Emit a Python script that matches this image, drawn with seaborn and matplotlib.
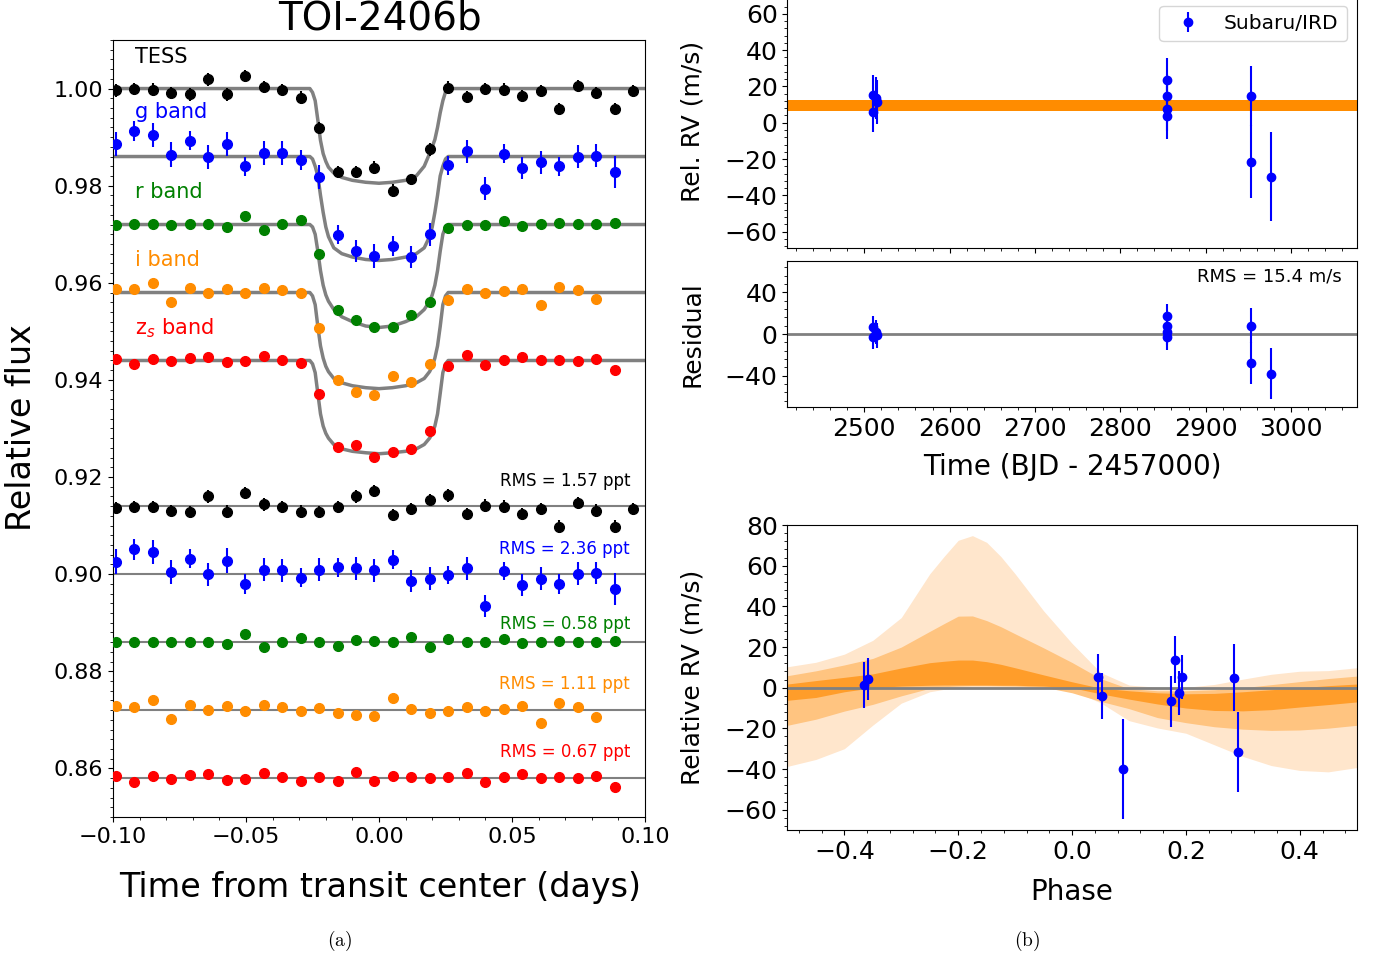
import numpy as np
import pandas as pd
import seaborn as sns
import matplotlib.pyplot as plt
from matplotlib.ticker import MultipleLocator

sns.set_style("ticks")
plt.rcParams["font.family"] = ["DejaVu Sans"]
plt.rcParams["mathtext.fontset"] = "dejavusans"
plt.rcParams.update({
    "axes.edgecolor": "black", "text.color": "black", "axes.labelcolor": "black",
    "xtick.color": "black", "ytick.color": "black",
    "xtick.major.size": 3.5, "ytick.major.size": 3.5,
    "xtick.minor.size": 2, "ytick.minor.size": 2,
})

# --- panel (a): binned light curves, 10-min bins (days from mid-transit) ---
t_bin = [-0.0989, -0.0920, -0.0850, -0.0781, -0.0711, -0.0642, -0.0572, -0.0503,
         -0.0434, -0.0364, -0.0295, -0.0225, -0.0156, -0.0086, -0.0017, 0.0052,
         0.0122, 0.0191, 0.0261, 0.0330, 0.0400, 0.0469, 0.0539, 0.0608,
         0.0677, 0.0747, 0.0816, 0.0886, 0.0955]

tess_flux = [0.9996, 0.9999, 0.9998, 0.9991, 0.9988, 1.0019, 0.9988, 1.0026, 1.0003, 0.9998,
             0.9981, 0.9919, 0.9828, 0.9828, 0.9837, 0.9790, 0.9813, 0.9875, 1.0002, 0.9982,
             0.9999, 0.9998, 0.9984, 0.9995, 0.9958, 1.0005, 0.9991, 0.9958, 0.9995]
tess_err = [0.0013, 0.0012, 0.0013, 0.0012, 0.0013, 0.0013, 0.0013, 0.0012, 0.0013, 0.0012,
            0.0013, 0.0013, 0.0012, 0.0013, 0.0013, 0.0013, 0.0012, 0.0013, 0.0013, 0.0012,
            0.0013, 0.0013, 0.0012, 0.0013, 0.0013, 0.0012, 0.0013, 0.0013, 0.0013]
tess_res = [0.9136, 0.9139, 0.9138, 0.9131, 0.9128, 0.9160, 0.9129, 0.9167, 0.9144, 0.9138,
            0.9129, 0.9128, 0.9138, 0.9160, 0.9171, 0.9122, 0.9134, 0.9153, 0.9162, 0.9124,
            0.9141, 0.9139, 0.9124, 0.9134, 0.9098, 0.9146, 0.9131, 0.9098, 0.9134]

g_flux = [0.9886, 0.9912, 0.9905, 0.9864, 0.9893, 0.9859, 0.9886, 0.9840, 0.9867, 0.9867,
          0.9853, 0.9818, 0.9699, 0.9665, 0.9655, 0.9676, 0.9653, 0.9700, 0.9842, 0.9871,
          0.9794, 0.9866, 0.9837, 0.9848, 0.9840, 0.9860, 0.9862, 0.9829]
g_err = [0.0025, 0.0021, 0.0025, 0.0025, 0.0020, 0.0024, 0.0025, 0.0020, 0.0024, 0.0024,
         0.0020, 0.0024, 0.0019, 0.0023, 0.0024, 0.0020, 0.0023, 0.0024, 0.0019, 0.0024,
         0.0023, 0.0019, 0.0023, 0.0024, 0.0020, 0.0024, 0.0023, 0.0033]
g_res = [0.9026, 0.9051, 0.9046, 0.9004, 0.9032, 0.9000, 0.9028, 0.8980, 0.9009, 0.9008,
         0.8993, 0.9009, 0.9014, 0.9012, 0.9008, 0.9030, 0.8986, 0.8991, 0.8998, 0.9012,
         0.8935, 0.9007, 0.8978, 0.8991, 0.8980, 0.9001, 0.9002, 0.8970]

r_flux = [0.9720, 0.9722, 0.9722, 0.9720, 0.9722, 0.9722, 0.9715, 0.9737, 0.9709, 0.9722,
          0.9729, 0.9659, 0.9545, 0.9523, 0.9508, 0.9508, 0.9533, 0.9561, 0.9712, 0.9720,
          0.9720, 0.9727, 0.9717, 0.9722, 0.9724, 0.9721, 0.9721, 0.9724]
r_err = [0.0004, 0.0004, 0.0004, 0.0004, 0.0004, 0.0004, 0.0004, 0.0004, 0.0004, 0.0004,
         0.0004, 0.0004, 0.0004, 0.0004, 0.0004, 0.0004, 0.0004, 0.0004, 0.0004, 0.0004,
         0.0004, 0.0004, 0.0004, 0.0004, 0.0004, 0.0004, 0.0004, 0.0004]
r_res = [0.8860, 0.8861, 0.8861, 0.8860, 0.8861, 0.8861, 0.8857, 0.8877, 0.8849, 0.8861,
         0.8869, 0.8861, 0.8853, 0.8865, 0.8863, 0.8860, 0.8870, 0.8849, 0.8867, 0.8860,
         0.8860, 0.8867, 0.8858, 0.8861, 0.8863, 0.8860, 0.8860, 0.8863]

i_flux = [0.9587, 0.9587, 0.9600, 0.9561, 0.9589, 0.9579, 0.9588, 0.9578, 0.9589, 0.9585,
          0.9578, 0.9506, 0.9400, 0.9376, 0.9369, 0.9408, 0.9396, 0.9432, 0.9564, 0.9587,
          0.9578, 0.9583, 0.9587, 0.9554, 0.9591, 0.9585, 0.9566]
i_err = [0.0005, 0.0005, 0.0005, 0.0005, 0.0005, 0.0005, 0.0005, 0.0005, 0.0005, 0.0005,
         0.0005, 0.0005, 0.0005, 0.0005, 0.0005, 0.0005, 0.0005, 0.0005, 0.0005, 0.0005,
         0.0005, 0.0005, 0.0005, 0.0005, 0.0005, 0.0005, 0.0006]
i_res = [0.8729, 0.8727, 0.8740, 0.8702, 0.8730, 0.8720, 0.8728, 0.8719, 0.8730, 0.8726,
         0.8719, 0.8725, 0.8715, 0.8710, 0.8708, 0.8746, 0.8723, 0.8715, 0.8718, 0.8727,
         0.8718, 0.8723, 0.8728, 0.8694, 0.8734, 0.8726, 0.8706]

z_flux = [0.9444, 0.9432, 0.9444, 0.9439, 0.9446, 0.9448, 0.9436, 0.9439, 0.9450, 0.9442,
          0.9434, 0.9371, 0.9262, 0.9265, 0.9242, 0.9252, 0.9258, 0.9295, 0.9428, 0.9451,
          0.9430, 0.9442, 0.9448, 0.9441, 0.9442, 0.9439, 0.9444, 0.9420]
z_err = [0.0004, 0.0004, 0.0004, 0.0004, 0.0004, 0.0004, 0.0004, 0.0004, 0.0004, 0.0004,
         0.0004, 0.0004, 0.0004, 0.0004, 0.0004, 0.0004, 0.0004, 0.0004, 0.0004, 0.0004,
         0.0004, 0.0004, 0.0004, 0.0004, 0.0004, 0.0004, 0.0004, 0.0009]
z_res = [0.8584, 0.8572, 0.8584, 0.8579, 0.8586, 0.8588, 0.8577, 0.8579, 0.8590, 0.8583,
         0.8574, 0.8582, 0.8574, 0.8593, 0.8575, 0.8585, 0.8582, 0.8581, 0.8583, 0.8591,
         0.8572, 0.8582, 0.8588, 0.8581, 0.8583, 0.8581, 0.8585, 0.8562]

# transit model curves, read at these times
model_t = [-0.100, -0.026, -0.025, -0.024, -0.023, -0.022, -0.021, -0.020, -0.019,
           -0.017, -0.014, -0.010, -0.005, 0.000, 0.005, 0.010, 0.014, 0.017,
           0.019, 0.020, 0.021, 0.022, 0.023, 0.024, 0.025, 0.026, 0.100]
tess_model = [1.0, 1.0, 0.9992, 0.9975, 0.9935, 0.9893, 0.9866, 0.9850, 0.9838,
              0.9826, 0.9817, 0.9811, 0.9807, 0.9805, 0.9807, 0.9811, 0.9820, 0.9840,
              0.9866, 0.9880, 0.9895, 0.9920, 0.9950, 0.9975, 0.9993, 1.0, 1.0]
g_model = [0.986, 0.986, 0.9855, 0.9840, 0.9820, 0.9780, 0.9745, 0.9715, 0.9695,
           0.9672, 0.9660, 0.9653, 0.9648, 0.9646, 0.9648, 0.9653, 0.9660, 0.9672,
           0.9695, 0.9715, 0.9745, 0.9780, 0.9820, 0.9840, 0.9855, 0.986, 0.986]
r_model = [0.972, 0.972, 0.9715, 0.9700, 0.9665, 0.9625, 0.9595, 0.9575, 0.9562,
           0.9545, 0.9530, 0.9520, 0.9511, 0.9508, 0.9511, 0.9520, 0.9530, 0.9545,
           0.9562, 0.9575, 0.9595, 0.9625, 0.9665, 0.9700, 0.9715, 0.972, 0.972]
i_model = [0.958, 0.958, 0.9573, 0.9555, 0.9510, 0.9470, 0.9445, 0.9428, 0.9417,
           0.9403, 0.9394, 0.9388, 0.9384, 0.9382, 0.9384, 0.9388, 0.9394, 0.9403,
           0.9417, 0.9428, 0.9445, 0.9470, 0.9510, 0.9555, 0.9573, 0.958, 0.958]
z_model = [0.944, 0.944, 0.9433, 0.9415, 0.9372, 0.9330, 0.9305, 0.9290, 0.9280,
           0.9267, 0.9258, 0.9253, 0.9250, 0.9248, 0.9250, 0.9253, 0.9258, 0.9267,
           0.9280, 0.9290, 0.9305, 0.9330, 0.9372, 0.9415, 0.9433, 0.944, 0.944]

band_names = ["TESS", "g band", "r band", "i band", r"z$_s$ band"]
band_colors = ["black", "blue", "green", "darkorange", "red"]
res_levels = [0.914, 0.900, 0.886, 0.872, 0.858]
rms_labels = ["RMS = 1.57 ppt", "RMS = 2.36 ppt", "RMS = 0.58 ppt",
              "RMS = 1.11 ppt", "RMS = 0.67 ppt"]

# --- panel (b): Subaru/IRD radial velocities ---
rv_time = [2509.7, 2509.7, 2514.2, 2515.0, 2854.4, 2854.4, 2854.4, 2854.4,
           2952.6, 2952.6, 2976.8]
rv_val = [15.2, 5.9, 13.7, 11.5, 23.5, 14.8, 7.8, 3.7, 14.8, -21.5, -29.8]
rv_err = [11.0, 11.0, 11.5, 12.0, 12.0, 12.0, 12.5, 12.5, 16.5, 20.0, 24.5]
rv_res = [6.4, -3.2, 2.2, -1.0, 17.2, 8.0, 1.6, -3.2, 8.0, -28.0, -37.9]

phase = [-0.366, -0.359, 0.046, 0.053, 0.090, 0.173, 0.180, 0.188, 0.194, 0.285, 0.292]
phase_rv = [1.3, 4.3, 5.4, -4.1, -39.8, -6.6, 13.8, -2.6, 5.2, 4.9, -31.6]
phase_err = [11.5, 10.5, 11.0, 11.5, 24.6, 12.5, 11.6, 11.0, 11.0, 16.4, 19.7]

# model credible bands vs phase
band_ph = [-0.5, -0.45, -0.4, -0.35, -0.3, -0.25, -0.225, -0.2, -0.175, -0.15, -0.125,
           -0.1, -0.05, 0.0, 0.05, 0.1, 0.15, 0.2, 0.25, 0.3, 0.35, 0.4, 0.45, 0.5]
light_hi = [10.3, 12.5, 16.5, 23.3, 34.5, 56.0, 64.5, 72.5, 74.8, 71.5, 64.5,
            56.0, 37.8, 21.8, 7.5, 1.3, 0.2, 0.2, 1.6, 4.2, 6.6, 8.1, 8.4, 9.8]
light_lo = [-38.7, -35.3, -30.0, -18.4, -7.6, -2.0, -0.8, 0.0, 0.0, 0.0, 0.0,
            0.0, -0.3, -1.4, -7.4, -16.2, -19.8, -22.4, -28.1, -33.8, -38.3, -40.7, -41.4, -39.3]
mid_hi = [5.9, 8.3, 11.2, 14.4, 20.0, 27.7, 31.5, 35.2, 35.3, 33.0, 30.0,
          26.5, 19.6, 12.4, 4.5, -0.5, -1.5, -1.5, -1.0, 0.0, 1.5, 3.0, 4.5, 5.7]
mid_lo = [-18.5, -15.5, -11.5, -8.2, -4.0, -0.3, 0.5, 0.8, 1.0, 1.0, 0.9,
          0.8, 0.3, -2.5, -6.7, -10.3, -14.7, -17.2, -19.2, -20.4, -21.0, -20.8, -19.9, -18.5]
dark_hi = [1.8, 3.5, 5.1, 6.8, 9.7, 12.3, 13.0, 13.6, 13.6, 12.8, 11.5,
           9.8, 6.3, 2.9, -0.2, -1.5, -2.5, -3.0, -2.8, -2.0, -1.0, 0.0, 1.0, 1.8]
dark_lo = [-6.2, -4.8, -2.0, 0.0, 0.8, 1.2, 1.3, 1.3, 1.3, 1.3, 1.2,
           1.2, 0.8, 0.0, -3.0, -5.6, -8.0, -10.0, -11.2, -11.4, -10.8, -9.5, -8.3, -7.0]

fig = plt.figure(figsize=(13.8, 9.59), dpi=100)

# ---------------- panel (a) ----------------
ax = fig.add_axes([0.0819, 0.1481, 0.3855, 0.8102])
fluxes = [tess_flux, g_flux, r_flux, i_flux, z_flux]
errs = [tess_err, g_err, r_err, i_err, z_err]
resids = [tess_res, g_res, r_res, i_res, z_res]
models = [tess_model, g_model, r_model, i_model, z_model]
rms_y = [0.9192, 0.9052, 0.8898, 0.8773, 0.8633]

for k in range(5):
    n = len(fluxes[k])
    c = band_colors[k]
    sns.lineplot(x=model_t, y=models[k], color="gray", lw=2.5, sort=False,
                 estimator=None, ax=ax, zorder=2)
    ax.axhline(res_levels[k], color="gray", lw=1.5, zorder=1)
    ax.errorbar(t_bin[:n], fluxes[k], yerr=errs[k], fmt="o", color=c, ms=7,
                elinewidth=1.5, capsize=0, zorder=3)
    ax.errorbar(t_bin[:n], resids[k], yerr=errs[k], fmt="o", color=c, ms=7,
                elinewidth=1.5, capsize=0, zorder=3)
    ax.text(0.0944, rms_y[k], rms_labels[k], color=c, fontsize=12,
            ha="right", va="center")

label_y = [1.0066, 0.9951, 0.9786, 0.9646, 0.9507]
for k in range(5):
    ax.text(-0.0917, label_y[k], band_names[k], color=band_colors[k], fontsize=15,
            ha="left", va="center")

ax.set_xlim(-0.1, 0.1)
ax.set_ylim(0.85, 1.01)
ax.xaxis.set_major_locator(MultipleLocator(0.05))
ax.xaxis.set_minor_locator(MultipleLocator(0.01))
ax.yaxis.set_major_locator(MultipleLocator(0.02))
ax.yaxis.set_minor_locator(MultipleLocator(0.002))
ax.tick_params(labelsize=16)
ax.set_xlabel("")
ax.set_ylabel("")

fig.text(380 / 1380, 1 - 18 / 959, "TOI-2406b", fontsize=28, ha="center", va="center")
fig.text(22 / 1380, 1 - 428 / 959, "Relative flux", fontsize=24, rotation=90,
         ha="center", va="center")
fig.text(380 / 1380, 1 - 888 / 959, "Time from transit center (days)", fontsize=24,
         ha="center", va="center")

# ---------------- panel (b) ----------------
rx0, rw = 0.5706, 0.4125
xlo, xhi = 2410, 3077

ax_rv = fig.add_axes([rx0, 0.7414, rw, 0.2631])
ax_rv.axhspan(6.3, 12.8, color="darkorange", lw=0, zorder=1)
ax_rv.errorbar(rv_time, rv_val, yerr=rv_err, fmt="o", color="blue", ms=6,
               elinewidth=1.5, capsize=0, zorder=3, label="Subaru/IRD")
ax_rv.legend(loc="upper right", fontsize=14.5, frameon=True)
ax_rv.set_xlim(xlo, xhi)
ax_rv.set_ylim(-69, 70)
ax_rv.xaxis.set_major_locator(MultipleLocator(100))
ax_rv.xaxis.set_minor_locator(MultipleLocator(20))
ax_rv.yaxis.set_major_locator(MultipleLocator(20))
ax_rv.yaxis.set_minor_locator(MultipleLocator(4))
ax_rv.tick_params(labelsize=18)
ax_rv.tick_params(axis="x", labelbottom=False)
ax_rv.set_ylabel("Rel. RV (m/s)", fontsize=18)

ax_res = fig.add_axes([rx0, 0.5756, rw, 0.1522])
ax_res.axhline(0, color="gray", lw=2, zorder=1)
ax_res.errorbar(rv_time, rv_res, yerr=rv_err, fmt="o", color="blue", ms=6,
                elinewidth=1.5, capsize=0, zorder=3)
ax_res.text(0.974, 0.897, "RMS = 15.4 m/s", transform=ax_res.transAxes,
            fontsize=13, ha="right", va="center")
ax_res.set_xlim(xlo, xhi)
ax_res.set_ylim(-70, 70)
ax_res.xaxis.set_major_locator(MultipleLocator(100))
ax_res.xaxis.set_minor_locator(MultipleLocator(20))
ax_res.yaxis.set_major_locator(MultipleLocator(40))
ax_res.yaxis.set_minor_locator(MultipleLocator(8))
ax_res.tick_params(labelsize=18)
ax_res.set_ylabel("Residual", fontsize=18)
ax_res.set_xlabel("Time (BJD - 2457000)", fontsize=20, labelpad=9)

ax_ph = fig.add_axes([rx0, 0.1345, rw, 0.3180])
ax_ph.fill_between(band_ph, light_lo, light_hi, color="#ffe6cc", lw=0, zorder=1)
ax_ph.fill_between(band_ph, mid_lo, mid_hi, color="#ffc480", lw=0, zorder=1)
ax_ph.fill_between(band_ph, dark_lo, dark_hi, color="#ff9d2a", lw=0, zorder=1)
ax_ph.axhline(0, color="gray", lw=2, zorder=2)
ax_ph.errorbar(phase, phase_rv, yerr=phase_err, fmt="o", color="blue", ms=6,
               elinewidth=1.5, capsize=0, zorder=3)
ax_ph.set_xlim(-0.5, 0.5)
ax_ph.set_ylim(-70, 80)
ax_ph.xaxis.set_major_locator(MultipleLocator(0.2))
ax_ph.xaxis.set_minor_locator(MultipleLocator(0.04))
ax_ph.yaxis.set_major_locator(MultipleLocator(20))
ax_ph.yaxis.set_minor_locator(MultipleLocator(4))
ax_ph.tick_params(labelsize=18)
ax_ph.set_ylabel("Relative RV (m/s)", fontsize=18)
ax_ph.set_xlabel("Phase", fontsize=20, labelpad=10)

for a in (ax_rv, ax_res, ax_ph):
    a.yaxis.set_label_coords(-0.145, 0.5)

fig.text(340 / 1380, 1 - 941 / 959, r"$\mathrm{(a)}$", fontsize=14, ha="center",
         va="center", math_fontfamily="cm")
fig.text(1027 / 1380, 1 - 941 / 959, r"$\mathrm{(b)}$", fontsize=14, ha="center",
         va="center", math_fontfamily="cm")

fig.savefig("out.png", dpi=100)
